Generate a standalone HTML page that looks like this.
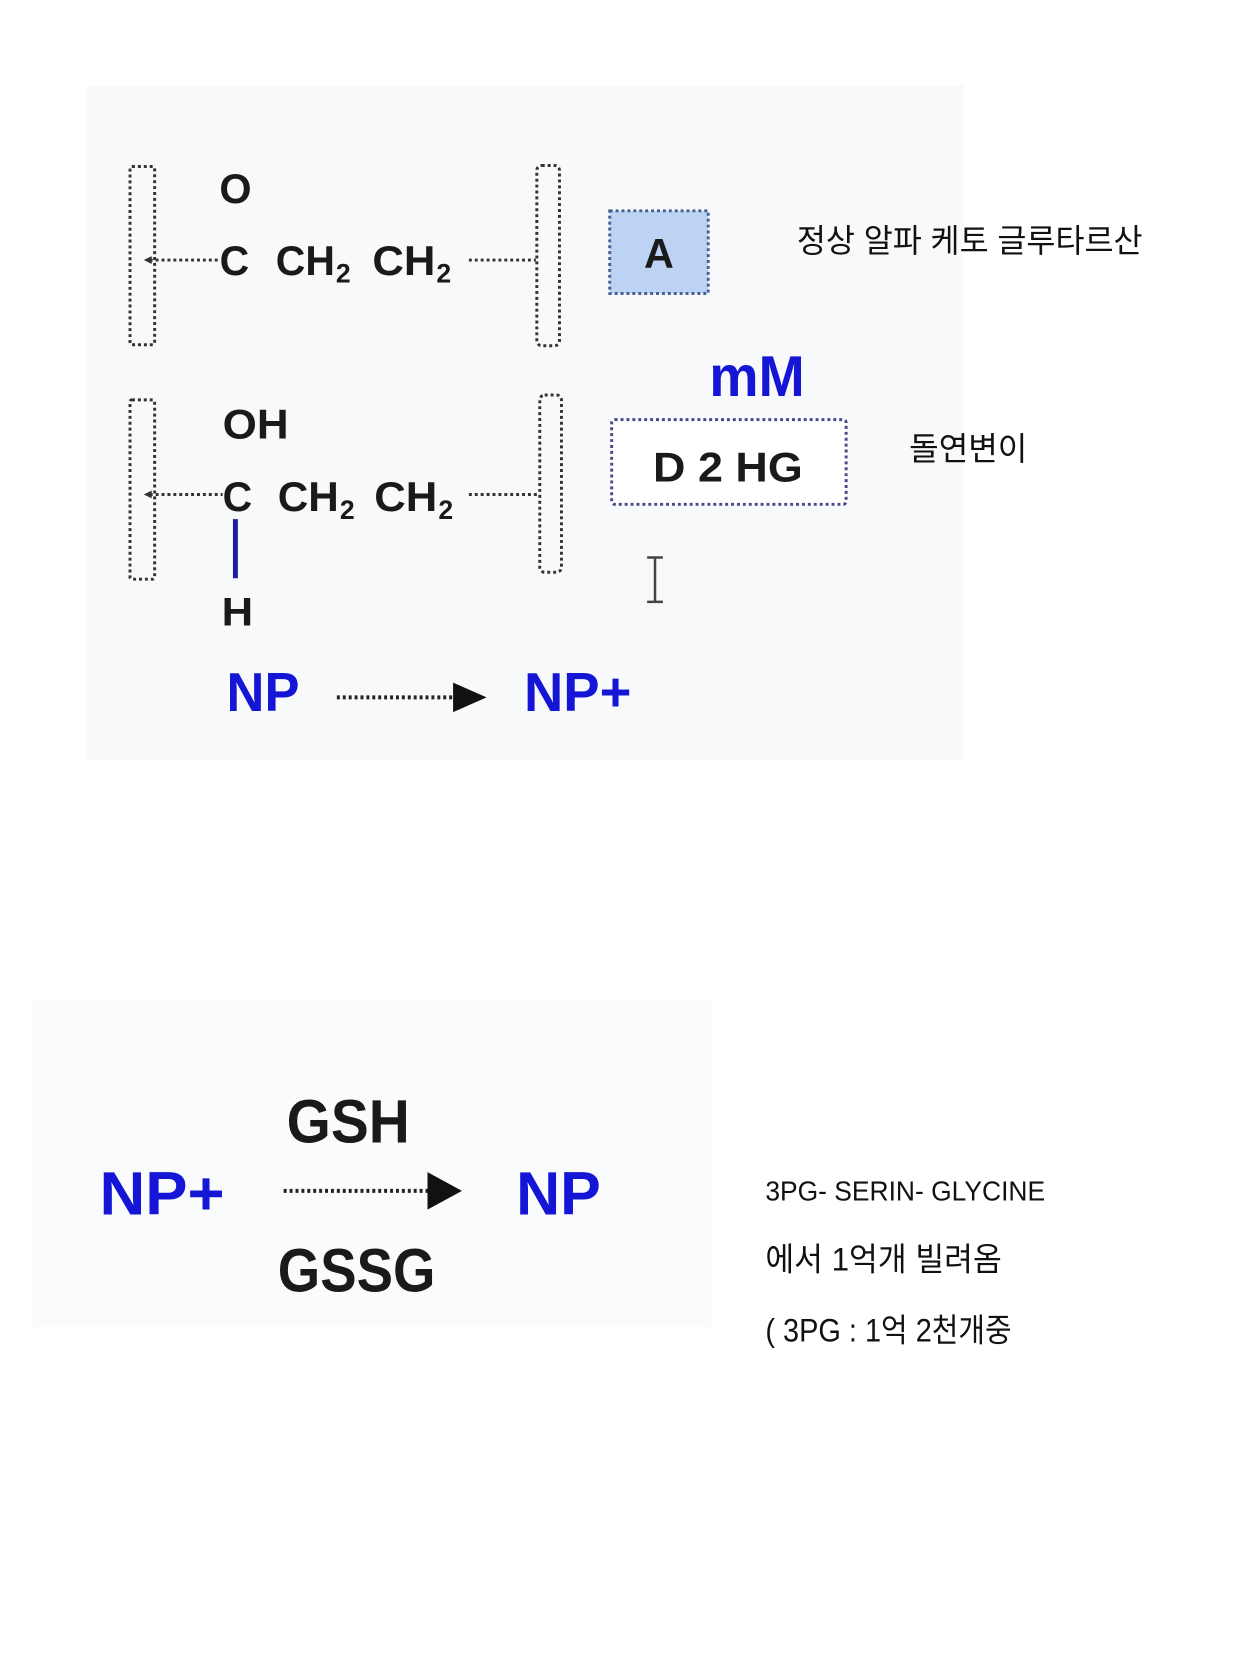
<!DOCTYPE html>
<html><head><meta charset="utf-8"><style>
html,body{margin:0;padding:0;background:#fff}
svg{display:block}
.d{font-family:"Liberation Sans","DejaVu Sans",sans-serif;font-weight:bold;fill:#1a1a1a}
.b{font-family:"Liberation Sans","DejaVu Sans",sans-serif;font-weight:bold;fill:#1515d5}
.k{font-family:"Liberation Sans","Noto Sans CJK KR",sans-serif;fill:#111}
</style></head><body>
<svg width="1260" height="1680" viewBox="0 0 1260 1680" xmlns="http://www.w3.org/2000/svg">
<g transform="scale(0.985)">
<rect x="87" y="87" width="891" height="684" fill="#f8f9fb"/>
<rect x="33" y="1016" width="689" height="331" fill="#fafbfc"/>
<g fill="none" stroke="#333" stroke-width="3" stroke-dasharray="3,3">
<rect x="132" y="169" width="25" height="181" rx="2"/>
<rect x="545" y="168" width="23" height="183" rx="5"/>
<rect x="132" y="406" width="25" height="182" rx="2"/>
<rect x="548" y="401" width="22" height="180" rx="5"/>
<line x1="152" y1="264" x2="222" y2="264"/>
<line x1="476" y1="264" x2="544" y2="264"/>
<line x1="152" y1="502" x2="226" y2="502"/>
<line x1="476" y1="502" x2="547" y2="502"/>
</g>
<path d="M146 264 l8 -4 v8z M146 502 l8 -4 v8z" fill="#333"/>
<text class="d" x="239" y="206" font-size="42" text-anchor="middle">O</text>
<text class="d" x="223" y="279" font-size="42" textLength="30" lengthAdjust="spacingAndGlyphs">C</text>
<text class="d" x="280" y="279" font-size="42" textLength="60" lengthAdjust="spacingAndGlyphs">CH</text>
<text class="d" x="341" y="287" font-size="27">2</text>
<text class="d" x="378" y="279" font-size="42" textLength="64" lengthAdjust="spacingAndGlyphs">CH</text>
<text class="d" x="443" y="287" font-size="27">2</text>
<text class="d" x="226" y="445" font-size="42" textLength="67" lengthAdjust="spacingAndGlyphs">OH</text>
<text class="d" x="226" y="519" font-size="42" textLength="30" lengthAdjust="spacingAndGlyphs">C</text>
<text class="d" x="282" y="519" font-size="42" textLength="62" lengthAdjust="spacingAndGlyphs">CH</text>
<text class="d" x="345" y="527" font-size="27">2</text>
<text class="d" x="380" y="519" font-size="42" textLength="64" lengthAdjust="spacingAndGlyphs">CH</text>
<text class="d" x="445" y="527" font-size="27">2</text>
<line x1="239" y1="527" x2="239" y2="587" stroke="#1c1ca0" stroke-width="5"/>
<text class="d" x="225" y="635" font-size="40" textLength="32" lengthAdjust="spacingAndGlyphs">H</text>
<rect x="619" y="214" width="100" height="84" fill="#bcd3f3" stroke="#4a5f90" stroke-width="3" stroke-dasharray="3,3"/>
<text class="d" x="669" y="272" font-size="42" text-anchor="middle">A</text>
<text class="b" x="720" y="402" font-size="58" textLength="97" lengthAdjust="spacingAndGlyphs">mM</text>
<rect x="621" y="426" width="238" height="86" fill="#fff" stroke="#4a4a8a" stroke-width="3" stroke-dasharray="3,3" rx="3"/>
<text class="d" x="663" y="489" font-size="42" textLength="152" lengthAdjust="spacingAndGlyphs">D 2 HG</text>
<path d="M657 566h16M665 566v45M657 611h16" stroke="#444" stroke-width="2.5" fill="none"/>
<text class="k" x="809" y="256" font-size="33" textLength="351" lengthAdjust="spacingAndGlyphs">정상 알파 케토 글루타르산</text>
<text class="k" x="923" y="467" font-size="33" textLength="120" lengthAdjust="spacingAndGlyphs">돌연변이</text>
<text class="b" x="230" y="722" font-size="56" textLength="74" lengthAdjust="spacingAndGlyphs">NP</text>
<line x1="342" y1="708" x2="462" y2="708" stroke="#222" stroke-width="4" stroke-dasharray="3,3"/>
<path d="M460 693 L494 708 L460 723Z" fill="#111"/>
<text class="b" x="532" y="722" font-size="56" textLength="109" lengthAdjust="spacingAndGlyphs">NP+</text>
<text class="d" x="291" y="1160" font-size="62" fill="#111" textLength="125" lengthAdjust="spacingAndGlyphs">GSH</text>
<text class="b" x="101" y="1233" font-size="62" textLength="127" lengthAdjust="spacingAndGlyphs">NP+</text>
<line x1="288" y1="1209" x2="436" y2="1209" stroke="#222" stroke-width="4" stroke-dasharray="3,3"/>
<path d="M434 1190 L469 1209 L434 1228Z" fill="#111"/>
<text class="b" x="524" y="1233" font-size="62" textLength="86" lengthAdjust="spacingAndGlyphs">NP</text>
<text class="d" x="282" y="1311" font-size="62" fill="#111" textLength="160" lengthAdjust="spacingAndGlyphs">GSSG</text>
<text class="k" x="777" y="1219" font-size="28" textLength="284" lengthAdjust="spacingAndGlyphs">3PG- SERIN- GLYCINE</text>
<text class="k" x="777" y="1290" font-size="33" textLength="240" lengthAdjust="spacingAndGlyphs">에서 1억개 빌려옴</text>
<text class="k" x="777" y="1362" font-size="33" textLength="250" lengthAdjust="spacingAndGlyphs">( 3PG : 1억 2천개중</text>
</g>
</svg>
</body></html>
